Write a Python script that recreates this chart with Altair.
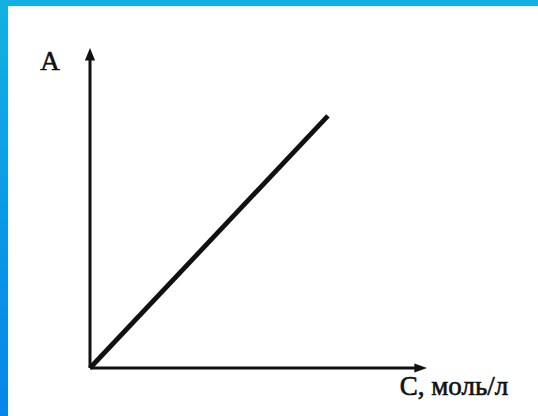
import altair as alt
import pandas as pd

# Axis extents (arbitrary units; arrows mark the ends of both axes)
c_axis = [0, 10]
a_axis = [0, 10]

# Calibration line A = k * C, drawn from the origin
line_c = [0.0, 7.06]
line_a = [0.0, 7.88]

# Axis captions
y_caption = "A"
x_caption = "C, моль/л"

W, H = 538, 416
INK = "#111111"
FONT = "Liberation Serif"

x_scale = alt.Scale(domain=c_axis, range=[90, 427])
y_scale = alt.Scale(domain=a_axis, range=[368, 48])


def X(field):
    return alt.X(field, type="quantitative", scale=x_scale, axis=None)


def Y(field):
    return alt.Y(field, type="quantitative", scale=y_scale, axis=None)


one_row = alt.Data(values=[{}])

# Blue frame: plain strip on top, vertical gradient on the left
top_strip = alt.Chart(one_row).mark_rect(color="#13b0e1").encode(
    x=alt.value(0), x2=alt.value(W), y=alt.value(0), y2=alt.value(6)
)
left_strip = alt.Chart(one_row).mark_rect(
    color=alt.LinearGradient(
        gradient="linear",
        stops=[
            alt.GradientStop(color="#13b1e1", offset=0),
            alt.GradientStop(color="#0a93e6", offset=0.65),
            alt.GradientStop(color="#0885e9", offset=1),
        ],
        x1=0, x2=0, y1=0, y2=1,
    )
).encode(x=alt.value(0), x2=alt.value(8), y=alt.value(0), y2=alt.value(H))

# Axis lines
y_axis_df = pd.DataFrame({"c": [c_axis[0]], "a0": [a_axis[0]], "a1": [a_axis[1]]})
x_axis_df = pd.DataFrame({"c0": [c_axis[0]], "c1": [c_axis[1]], "a": [a_axis[0]]})

y_axis = alt.Chart(y_axis_df).mark_rule(
    color=INK, strokeWidth=3, y2Offset=8
).encode(x=X("c"), y=Y("a0"), y2="a1")

x_axis = alt.Chart(x_axis_df).mark_rule(
    color=INK, strokeWidth=3, x2Offset=-8
).encode(x=X("c0"), x2="c1", y=Y("a"))

# Arrowheads (custom paths with the tip at the symbol origin)
y_tip_df = pd.DataFrame({"c": [c_axis[0]], "a": [a_axis[1]]})
x_tip_df = pd.DataFrame({"c": [c_axis[1]], "a": [a_axis[0]]})

y_arrow = alt.Chart(y_tip_df).mark_point(
    shape="M0,0 L-0.85,2.1 L0.85,2.1 Z", filled=True, opacity=1,
    size=144, color=INK, strokeWidth=0
).encode(x=X("c"), y=Y("a"))

x_arrow = alt.Chart(x_tip_df).mark_point(
    shape="M0,0 L-2.1,-0.75 L-2.1,0.75 Z", filled=True, opacity=1,
    size=144, color=INK, strokeWidth=0
).encode(x=X("c"), y=Y("a"))

# Calibration line
line_df = pd.DataFrame({"c": line_c, "a": line_a})
line = alt.Chart(line_df).mark_line(
    color=INK, strokeWidth=4.8, strokeCap="butt"
).encode(x=X("c"), y=Y("a"))

# Axis captions next to the arrow tips (thin outline gives a heavier print look)
y_label = alt.Chart(y_tip_df).mark_text(
    text=y_caption, font=FONT, fontSize=27, color=INK,
    stroke=INK, strokeWidth=0.6,
    align="center", baseline="alphabetic", dx=-40, dy=22
).encode(x=X("c"), y=Y("a"))

x_label = alt.Chart(x_tip_df).mark_text(
    text=x_caption, font=FONT, fontSize=27, color=INK,
    stroke=INK, strokeWidth=0.6,
    align="center", baseline="alphabetic", dx=27, dy=27
).encode(x=X("c"), y=Y("a"))

chart = alt.layer(
    top_strip, left_strip, y_axis, x_axis, line, y_arrow, x_arrow, y_label, x_label
).properties(
    width=W, height=H, padding=0, background="white",
    autosize=alt.AutoSizeParams(type="none"),
).configure_view(stroke=None)

chart.save("out.html", embed_options={"renderer": "svg", "actions": False})
